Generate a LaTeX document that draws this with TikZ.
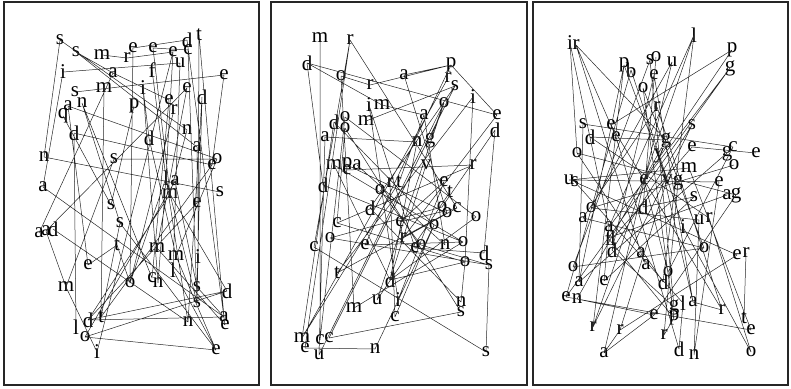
\documentclass[tikz,border=0pt]{standalone}
\usepackage{fontspec}
\setmainfont{Liberation Serif}
\usepackage{tikz}
\usetikzlibrary{positioning}

\begin{document}
\begin{tikzpicture}[
    x=1pt, y=-1pt,
    letter/.style={inner sep=0pt, font=\fontsize{21}{21}\selectfont},
    link/.style={line width=0.5pt, black!85},
    panel/.style={line width=1.6pt, black!85}
]
\useasboundingbox (0,0) rectangle (791,388);
% Panels
\draw [panel] (4,2) rectangle (259,385);
\draw [panel] (271,2) rectangle (527,385);
\draw [panel] (533,2) rectangle (788,385);

% Left panel letters
\node (a1) [letter] at (60,40) {s};
\node (a2) [letter] at (76,52) {s};
\node (a3) [letter] at (102,55) {m};
\node (a4) [letter] at (127,58) {r};
\node (a5) [letter] at (133,48) {e};
\node (a6) [letter] at (153,48) {e};
\node (a7) [letter] at (173,52) {e};
\node (a8) [letter] at (188,50) {c};
\node (a9) [letter] at (187,40) {d};
\node (a10) [letter] at (199,35) {t};
\node (a11) [letter] at (180,63) {u};
\node (a12) [letter] at (63,72) {i};
\node (a13) [letter] at (113,73) {a};
\node (a14) [letter] at (152,70) {f};
\node (a15) [letter] at (224,75) {e};
\node (a16) [letter] at (75,92) {s};
\node (a17) [letter] at (104,88) {m};
\node (a18) [letter] at (143,88) {i};
\node (a19) [letter] at (187,88) {e};
\node (a20) [letter] at (202,97) {d};
\node (a21) [letter] at (68,106) {a};
\node (a22) [letter] at (82,103) {n};
\node (a23) [letter] at (134,106) {p};
\node (a24) [letter] at (169,100) {e};
\node (a25) [letter] at (174,110) {r};
\node (a26) [letter] at (63,116) {q};
\node (a27) [letter] at (74,133) {d};
\node (a28) [letter] at (149,138) {d};
\node (a29) [letter] at (187,130) {n};
\node (a30) [letter] at (197,147) {a};
\node (a31) [letter] at (44,157) {n};
\node (a32) [letter] at (114,159) {s};
\node (a33) [letter] at (212,165) {e};
\node (a34) [letter] at (217,159) {o};
\node (a35) [letter] at (43,187) {a};
\node (a36) [letter] at (166,178) {l};
\node (a37) [letter] at (175,181) {a};
\node (a38) [letter] at (170,194) {m};
\node (a39) [letter] at (220,192) {s};
\node (a40) [letter] at (197,203) {e};
\node (a41) [letter] at (111,205) {s};
\node (a42) [letter] at (120,223) {s};
\node (a43) [letter] at (39,233) {a};
\node (a44) [letter] at (46,231) {a};
\node (a45) [letter] at (53,229) {d};
\node (a46) [letter] at (117,245) {t};
\node (a47) [letter] at (157,248) {m};
\node (a48) [letter] at (176,256) {m};
\node (a49) [letter] at (198,257) {i};
\node (a50) [letter] at (88,265) {e};
\node (a51) [letter] at (173,270) {l};
\node (a52) [letter] at (66,287) {m};
\node (a53) [letter] at (130,283) {o};
\node (a54) [letter] at (152,278) {c};
\node (a55) [letter] at (158,283) {n};
\node (a56) [letter] at (197,287) {s};
\node (a57) [letter] at (227,291) {d};
\node (a58) [letter] at (197,303) {s};
\node (a59) [letter] at (88,320) {d};
\node (a60) [letter] at (101,317) {t};
\node (a61) [letter] at (76,327) {l};
\node (a62) [letter] at (85,337) {o};
\node (a63) [letter] at (97,352) {i};
\node (a64) [letter] at (188,322) {n};
\node (a65) [letter] at (224,317) {a};
\node (a66) [letter] at (225,325) {e};
\node (a67) [letter] at (216,350) {e};

% Left panel links
\draw [link] (a1.center) -- (a31.center) (a1.center) -- (a29.center) (a2.center) -- (a13.center)
  (a3.center) -- (a4.center) (a4.center) -- (a7.center) (a5.center) -- (a9.center)
  (a6.center) -- (a8.center) (a12.center) -- (a11.center) (a16.center) -- (a15.center)
  (a17.center) -- (a60.center) (a13.center) -- (a24.center) (a13.center) -- (a43.center)
  (a14.center) -- (a36.center) (a7.center) -- (a36.center) (a6.center) -- (a38.center)
  (a5.center) -- (a53.center) (a18.center) -- (a28.center) (a18.center) -- (a55.center)
  (a19.center) -- (a47.center) (a20.center) -- (a56.center) (a9.center) -- (a66.center)
  (a8.center) -- (a58.center) (a10.center) -- (a49.center) (a11.center) -- (a51.center)
  (a15.center) -- (a33.center) (a21.center) -- (a34.center) (a22.center) -- (a42.center)
  (a26.center) -- (a41.center) (a27.center) -- (a33.center) (a28.center) -- (a48.center)
  (a29.center) -- (a38.center) (a30.center) -- (a40.center) (a31.center) -- (a39.center)
  (a32.center) -- (a34.center) (a35.center) -- (a65.center) (a44.center) -- (a52.center)
  (a52.center) -- (a63.center) (a45.center) -- (a64.center) (a50.center) -- (a46.center)
  (a42.center) -- (a67.center) (a36.center) -- (a55.center) (a36.center) -- (a64.center)
  (a37.center) -- (a62.center) (a38.center) -- (a59.center) (a38.center) -- (a57.center)
  (a40.center) -- (a59.center) (a47.center) -- (a66.center) (a48.center) -- (a67.center)
  (a49.center) -- (a58.center) (a51.center) -- (a67.center) (a53.center) -- (a36.center)
  (a56.center) -- (a65.center) (a57.center) -- (a59.center) (a57.center) -- (a62.center)
  (a59.center) -- (a65.center) (a62.center) -- (a67.center) (a60.center) -- (a33.center)
  (a19.center) -- (a44.center) (a23.center) -- (a41.center) (a25.center) -- (a53.center)
  (a46.center) -- (a53.center) (a2.center) -- (a30.center) (a22.center) -- (a54.center)
  (a27.center) -- (a61.center) (a21.center) -- (a50.center) (a12.center) -- (a35.center)
  (a24.center) -- (a54.center) (a20.center) -- (a64.center) (a7.center) -- (a63.center)
  (a10.center) -- (a65.center) (a36.center) -- (a58.center) (a37.center) -- (a56.center)
  (a32.center) -- (a52.center) (a34.center) -- (a48.center) (a42.center) -- (a60.center);

% Middle panel letters
\node (b1) [letter] at (320,38) {m};
\node (b2) [letter] at (350,40) {r};
\node (b3) [letter] at (307,63) {d};
\node (b4) [letter] at (341,76) {o};
\node (b5) [letter] at (404,75) {a};
\node (b6) [letter] at (451,65) {p};
\node (b7) [letter] at (370,85) {r};
\node (b8) [letter] at (448,78) {r};
\node (b9) [letter] at (455,86) {s};
\node (b10) [letter] at (473,97) {i};
\node (b11) [letter] at (369,105) {i};
\node (b12) [letter] at (382,105) {m};
\node (b13) [letter] at (444,103) {o};
\node (b14) [letter] at (424,115) {a};
\node (b15) [letter] at (497,115) {e};
\node (b16) [letter] at (495,130) {d};
\node (b17) [letter] at (334,122) {d};
\node (b18) [letter] at (345,117) {o};
\node (b19) [letter] at (366,121) {m};
\node (b20) [letter] at (345,128) {o};
\node (b21) [letter] at (325,137) {a};
\node (b22) [letter] at (417,142) {n};
\node (b23) [letter] at (430,140) {g};
\node (b24) [letter] at (334,165) {m};
\node (b25) [letter] at (347,165) {p};
\node (b26) [letter] at (347,170) {e};
\node (b27) [letter] at (357,165) {a};
\node (b28) [letter] at (426,165) {v};
\node (b29) [letter] at (473,165) {r};
\node (b30) [letter] at (323,185) {d};
\node (b31) [letter] at (380,190) {o};
\node (b32) [letter] at (390,183) {r};
\node (b33) [letter] at (399,182) {t};
\node (b34) [letter] at (444,182) {e};
\node (b35) [letter] at (450,192) {t};
\node (b36) [letter] at (370,208) {d};
\node (b37) [letter] at (442,207) {o};
\node (b38) [letter] at (457,208) {c};
\node (b39) [letter] at (447,213) {o};
\node (b40) [letter] at (476,217) {o};
\node (b41) [letter] at (337,223) {c};
\node (b42) [letter] at (400,222) {e};
\node (b43) [letter] at (434,225) {o};
\node (b44) [letter] at (330,238) {o};
\node (b45) [letter] at (403,238) {r};
\node (b46) [letter] at (445,245) {n};
\node (b47) [letter] at (463,242) {o};
\node (b48) [letter] at (314,247) {c};
\node (b49) [letter] at (365,245) {e};
\node (b50) [letter] at (415,248) {e};
\node (b51) [letter] at (421,245) {o};
\node (b52) [letter] at (484,253) {d};
\node (b53) [letter] at (465,262) {o};
\node (b54) [letter] at (489,265) {s};
\node (b55) [letter] at (337,273) {t};
\node (b56) [letter] at (390,280) {d};
\node (b57) [letter] at (354,308) {m};
\node (b58) [letter] at (377,300) {u};
\node (b59) [letter] at (398,300) {i};
\node (b60) [letter] at (395,317) {c};
\node (b61) [letter] at (461,302) {n};
\node (b62) [letter] at (461,312) {s};
\node (b63) [letter] at (302,338) {m};
\node (b64) [letter] at (320,340) {c};
\node (b65) [letter] at (329,338) {c};
\node (b66) [letter] at (305,348) {e};
\node (b67) [letter] at (319,355) {u};
\node (b68) [letter] at (375,349) {n};
\node (b69) [letter] at (486,352) {s};

% Middle panel links
\draw [link] (b1.center) -- (b64.center) (b2.center) -- (b38.center) (b2.center) -- (b48.center)
  (b3.center) -- (b15.center) (b3.center) -- (b12.center) (b4.center) -- (b7.center)
  (b4.center) -- (b57.center) (b5.center) -- (b6.center) (b7.center) -- (b6.center)
  (b6.center) -- (b15.center) (b9.center) -- (b65.center) (b10.center) -- (b55.center)
  (b13.center) -- (b67.center) (b11.center) -- (b50.center) (b12.center) -- (b14.center)
  (b14.center) -- (b46.center) (b17.center) -- (b43.center) (b18.center) -- (b40.center)
  (b19.center) -- (b9.center) (b20.center) -- (b62.center) (b21.center) -- (b22.center)
  (b23.center) -- (b13.center) (b26.center) -- (b29.center) (b24.center) -- (b47.center)
  (b16.center) -- (b52.center) (b54.center) -- (b69.center) (b65.center) -- (b62.center)
  (b66.center) -- (b68.center) (b48.center) -- (b69.center) (b44.center) -- (b54.center)
  (b56.center) -- (b53.center) (b57.center) -- (b47.center) (b58.center) -- (b13.center)
  (b59.center) -- (b34.center) (b61.center) -- (b53.center) (b60.center) -- (b43.center)
  (b28.center) -- (b56.center) (b30.center) -- (b47.center) (b31.center) -- (b51.center)
  (b33.center) -- (b63.center) (b34.center) -- (b42.center) (b36.center) -- (b61.center)
  (b37.center) -- (b44.center) (b38.center) -- (b42.center) (b39.center) -- (b55.center)
  (b41.center) -- (b53.center) (b42.center) -- (b45.center) (b45.center) -- (b38.center)
  (b50.center) -- (b52.center) (b15.center) -- (b45.center) (b22.center) -- (b56.center)
  (b25.center) -- (b39.center) (b27.center) -- (b46.center) (b29.center) -- (b41.center)
  (b32.center) -- (b60.center) (b10.center) -- (b53.center) (b8.center) -- (b63.center)
  (b2.center) -- (b66.center) (b21.center) -- (b67.center) (b6.center) -- (b49.center)
  (b3.center) -- (b30.center) (b17.center) -- (b63.center) (b18.center) -- (b64.center)
  (b20.center) -- (b41.center) (b24.center) -- (b56.center) (b11.center) -- (b59.center)
  (b14.center) -- (b33.center) (b9.center) -- (b36.center) (b16.center) -- (b37.center)
  (b40.center) -- (b56.center) (b35.center) -- (b58.center) (b43.center) -- (b68.center)
  (b47.center) -- (b49.center) (b51.center) -- (b54.center) (b5.center) -- (b39.center);

% Right panel letters
\node (c1) [letter] at (570,43) {i};
\node (c2) [letter] at (576,45) {r};
\node (c3) [letter] at (694,35) {l};
\node (c4) [letter] at (732,50) {p};
\node (c5) [letter] at (730,68) {g};
\node (c6) [letter] at (624,65) {p};
\node (c7) [letter] at (631,70) {b};
\node (c8) [letter] at (650,60) {s};
\node (c9) [letter] at (656,57) {o};
\node (c10) [letter] at (672,62) {u};
\node (c11) [letter] at (654,75) {e};
\node (c12) [letter] at (643,88) {o};
\node (c13) [letter] at (657,107) {r};
\node (c14) [letter] at (583,124) {s};
\node (c15) [letter] at (611,125) {e};
\node (c16) [letter] at (616,137) {e};
\node (c17) [letter] at (590,137) {d};
\node (c18) [letter] at (692,125) {s};
\node (c19) [letter] at (666,140) {g};
\node (c20) [letter] at (692,147) {e};
\node (c21) [letter] at (733,147) {c};
\node (c22) [letter] at (727,153) {g};
\node (c23) [letter] at (756,153) {e};
\node (c24) [letter] at (577,153) {o};
\node (c25) [letter] at (659,156) {y};
\node (c26) [letter] at (689,168) {m};
\node (c27) [letter] at (734,165) {o};
\node (c28) [letter] at (569,180) {u};
\node (c29) [letter] at (575,182) {s};
\node (c30) [letter] at (644,180) {e};
\node (c31) [letter] at (667,180) {v};
\node (c32) [letter] at (678,182) {g};
\node (c33) [letter] at (719,182) {e};
\node (c34) [letter] at (727,195) {a};
\node (c35) [letter] at (736,195) {g};
\node (c36) [letter] at (694,197) {s};
\node (c37) [letter] at (591,208) {o};
\node (c38) [letter] at (643,207) {d};
\node (c39) [letter] at (583,218) {a};
\node (c40) [letter] at (609,227) {a};
\node (c41) [letter] at (699,220) {u};
\node (c42) [letter] at (709,218) {r};
\node (c43) [letter] at (683,227) {i};
\node (c44) [letter] at (608,238) {f};
\node (c45) [letter] at (613,238) {l};
\node (c46) [letter] at (612,250) {d};
\node (c47) [letter] at (641,253) {a};
\node (c48) [letter] at (704,248) {o};
\node (c49) [letter] at (737,255) {e};
\node (c50) [letter] at (746,253) {r};
\node (c51) [letter] at (646,265) {a};
\node (c52) [letter] at (573,267) {o};
\node (c53) [letter] at (668,272) {o};
\node (c54) [letter] at (579,282) {a};
\node (c55) [letter] at (604,281) {e};
\node (c56) [letter] at (663,282) {d};
\node (c57) [letter] at (566,297) {e};
\node (c58) [letter] at (577,299) {n};
\node (c59) [letter] at (674,307) {g};
\node (c60) [letter] at (683,303) {l};
\node (c61) [letter] at (693,302) {a};
\node (c62) [letter] at (722,310) {r};
\node (c63) [letter] at (654,315) {e};
\node (c64) [letter] at (674,318) {p};
\node (c65) [letter] at (593,327) {r};
\node (c66) [letter] at (620,330) {r};
\node (c67) [letter] at (664,335) {r};
\node (c68) [letter] at (744,318) {t};
\node (c69) [letter] at (751,330) {e};
\node (c70) [letter] at (604,353) {a};
\node (c71) [letter] at (679,349) {d};
\node (c72) [letter] at (694,355) {n};
\node (c73) [letter] at (751,352) {o};

% Right panel links
\draw [link] (c1.center) -- (c24.center) (c2.center) -- (c16.center) (c2.center) -- (c19.center)
  (c1.center) -- (c40.center) (c3.center) -- (c40.center) (c3.center) -- (c56.center)
  (c4.center) -- (c15.center) (c5.center) -- (c57.center) (c6.center) -- (c65.center)
  (c6.center) -- (c31.center) (c7.center) -- (c43.center) (c8.center) -- (c52.center)
  (c9.center) -- (c38.center) (c10.center) -- (c70.center) (c11.center) -- (c61.center)
  (c12.center) -- (c48.center) (c13.center) -- (c39.center) (c13.center) -- (c62.center)
  (c14.center) -- (c21.center) (c17.center) -- (c19.center) (c28.center) -- (c33.center)
  (c28.center) -- (c26.center) (c23.center) -- (c20.center) (c57.center) -- (c69.center)
  (c50.center) -- (c68.center) (c70.center) -- (c63.center) (c15.center) -- (c62.center)
  (c16.center) -- (c71.center) (c18.center) -- (c65.center) (c18.center) -- (c46.center)
  (c20.center) -- (c45.center) (c22.center) -- (c54.center) (c25.center) -- (c61.center)
  (c27.center) -- (c37.center) (c29.center) -- (c49.center) (c30.center) -- (c53.center)
  (c32.center) -- (c67.center) (c33.center) -- (c72.center) (c34.center) -- (c44.center)
  (c35.center) -- (c63.center) (c36.center) -- (c55.center) (c37.center) -- (c41.center)
  (c38.center) -- (c36.center) (c39.center) -- (c48.center) (c41.center) -- (c72.center)
  (c42.center) -- (c73.center) (c44.center) -- (c64.center) (c46.center) -- (c59.center)
  (c47.center) -- (c51.center) (c49.center) -- (c66.center) (c53.center) -- (c64.center)
  (c55.center) -- (c40.center) (c58.center) -- (c63.center) (c60.center) -- (c71.center)
  (c61.center) -- (c62.center) (c24.center) -- (c35.center) (c26.center) -- (c69.center)
  (c66.center) -- (c70.center) (c67.center) -- (c64.center) (c19.center) -- (c58.center)
  (c2.center) -- (c47.center) (c4.center) -- (c30.center) (c14.center) -- (c54.center)
  (c6.center) -- (c54.center) (c7.center) -- (c57.center) (c8.center) -- (c59.center)
  (c10.center) -- (c37.center) (c11.center) -- (c46.center) (c3.center) -- (c65.center)
  (c5.center) -- (c40.center) (c17.center) -- (c42.center) (c24.center) -- (c56.center)
  (c29.center) -- (c60.center) (c31.center) -- (c66.center) (c43.center) -- (c73.center)
  (c12.center) -- (c64.center) (c21.center) -- (c53.center) (c52.center) -- (c48.center);
\end{tikzpicture}
\end{document}
